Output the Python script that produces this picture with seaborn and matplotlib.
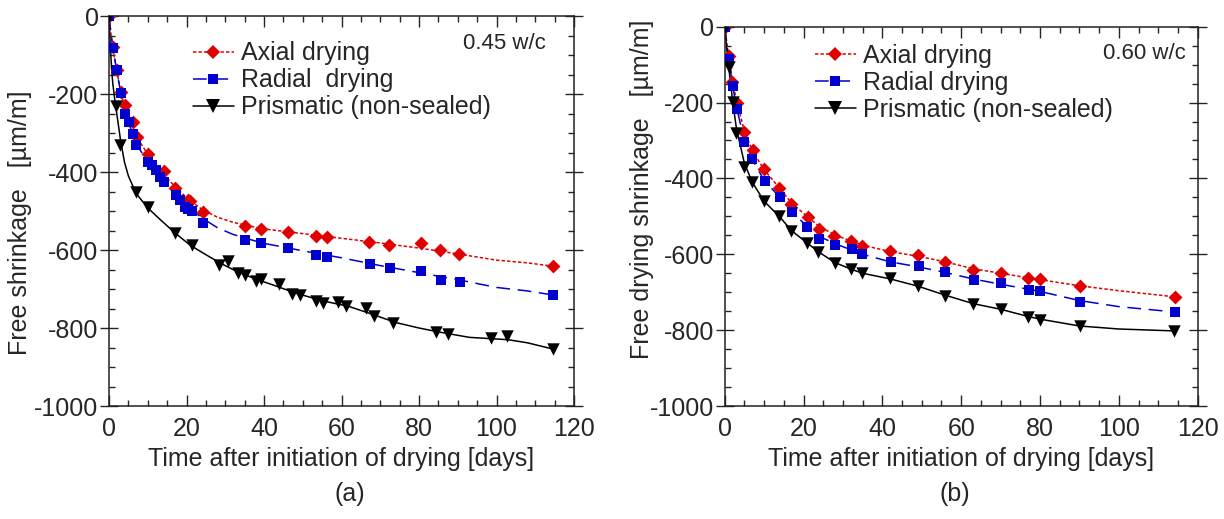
import numpy as np
import pandas as pd
import seaborn as sns
import matplotlib.pyplot as plt
from matplotlib.lines import Line2D
from matplotlib.ticker import MultipleLocator

# ---------------- data ----------------
# (a) 0.45 w/c  -- measured points
A_AXIAL_T = [0, 1.0, 2.1, 3.1, 4.2, 6.2, 7.2, 10.0, 14.1, 17.1, 20.3, 20.9, 24.2, 35.1, 39.2,
             46.2, 53.3, 56.3, 67.2, 72.3, 80.5, 85.4, 90.4, 114.6]
A_AXIAL_S = [0, -80, -138, -196, -227, -272, -309, -353, -398, -441, -471, -475, -502, -539, -547,
             -553, -564, -566, -579, -588, -581, -600, -609, -641]
A_RADIAL_T = [0, 1.0, 2.1, 3.1, 4.0, 5.1, 6.2, 6.9, 10.0, 11.1, 12.2, 13.2, 14.3, 17.3, 18.4,
              19.5, 20.5, 21.4, 24.2, 35.1, 39.3, 46.2, 53.3, 56.3, 67.3, 72.4, 80.5, 85.6, 90.6, 114.7]
A_RADIAL_S = [0, -81, -139, -197, -251, -271, -302, -332, -375, -383, -396, -413, -426, -460, -472,
              -489, -496, -501, -530, -574, -581, -595, -613, -618, -635, -645, -655, -676, -681, -715]
A_PRISM_T = [0, 1.9, 2.9, 6.9, 10.0, 17.1, 21.3, 28.3, 30.8, 33.2, 35.1, 37.9, 39.2, 43.9, 47.1,
             49.3, 53.3, 55.2, 59.2, 61.2, 66.4, 68.3, 73.4, 84.3, 87.4, 98.5, 102.6, 114.6]
A_PRISM_S = [0, -232, -331, -452, -489, -556, -588, -639, -627, -658, -665, -679, -675, -688, -712,
             -716, -730, -737, -734, -744, -749, -770, -786, -809, -816, -825, -820, -854]

# (a) fitted curves
A_FIT_T = [0, 0.5, 1, 2, 3, 4, 5, 6, 8, 10, 12, 14, 17, 20, 24, 28, 32, 36, 40, 50, 60, 70, 80,
           90, 100, 108, 115]
A_AXIAL_FIT = [0, -45, -82, -140, -192, -230, -258, -283, -323, -355, -382, -405, -437, -466, -496,
               -516, -529, -538, -546, -558, -570, -582, -595, -610, -626, -633, -642]
A_RADIAL_FIT = [0, -45, -82, -140, -195, -240, -272, -300, -343, -375, -400, -422, -455, -485, -518,
                -543, -560, -572, -583, -602, -620, -640, -658, -676, -696, -705, -716]
A_PRISM_FIT_T = [0, 0.3, 0.7, 1, 1.5, 2, 3, 4, 5, 7, 10, 13, 17, 21, 25, 29, 33, 38, 43, 48, 55,
                 62, 68, 74, 80, 85, 93, 103, 108, 115]
A_PRISM_FIT = [0, -70, -140, -175, -215, -250, -320, -375, -410, -455, -492, -520, -556, -588, -612,
               -635, -655, -675, -692, -710, -730, -745, -765, -786, -800, -810, -824, -830, -838, -855]

# (b) 0.60 w/c -- measured points
B_AXIAL_T = [0, 1.0, 1.9, 3.2, 5.0, 7.1, 10.0, 13.9, 16.8, 21.1, 23.9, 27.8, 32.1, 34.9, 42.0,
             49.1, 56.0, 63.1, 70.0, 77.0, 80.0, 90.2, 114.2]
B_AXIAL_S = [0, -76, -145, -200, -277, -326, -376, -426, -468, -501, -534, -552, -566, -577, -592,
             -602, -621, -642, -649, -662, -665, -684, -712]
B_RADIAL_T = [0, 1.2, 2.1, 3.0, 5.0, 7.0, 10.2, 14.0, 17.1, 21.0, 23.9, 28.0, 32.2, 34.9, 42.1,
              49.2, 56.0, 63.2, 70.0, 77.2, 80.1, 90.2, 114.2]
B_RADIAL_S = [0, -86, -156, -218, -303, -348, -406, -448, -488, -527, -561, -575, -587, -600, -621,
              -630, -648, -668, -677, -693, -697, -727, -752]
B_PRISM_T = [0, 1.2, 2.0, 2.9, 5.0, 7.0, 10.0, 13.9, 16.9, 21.0, 23.7, 28.0, 32.1, 34.9, 42.0,
             49.0, 56.0, 63.0, 70.0, 77.0, 79.9, 90.2, 114.0]
B_PRISM_S = [0, -105, -198, -281, -369, -410, -460, -499, -539, -571, -593, -624, -639, -649, -662,
             -683, -709, -732, -743, -766, -772, -789, -802]

# (b) fitted curves
B_FIT_T = [0, 0.5, 1, 2, 3, 5, 7, 10, 14, 17, 21, 24, 28, 32, 35, 42, 49, 56, 63, 70, 77, 80, 90,
           100, 114]
B_AXIAL_FIT = [0, -40, -76, -145, -195, -275, -327, -377, -427, -465, -501, -527, -549, -565, -576,
               -593, -605, -620, -638, -650, -662, -667, -683, -696, -712]
B_RADIAL_FIT = [0, -45, -85, -155, -213, -300, -350, -405, -450, -488, -527, -553, -572, -588, -600,
                -620, -633, -648, -665, -679, -692, -698, -722, -738, -752]
B_PRISM_FIT = [0, -55, -105, -195, -270, -360, -410, -460, -502, -538, -571, -595, -622, -639, -650,
               -665, -684, -708, -730, -745, -764, -771, -789, -797, -802]

LABELS_A = ['Axial drying', 'Radial  drying', 'Prismatic (non-sealed)']
LABELS_B = ['Axial drying', 'Radial drying', 'Prismatic (non-sealed)']

# ---------------- styles ----------------
RED, BLUE, BLACK = '#e00000', '#0000d0', '#000000'
STYLES = [
    dict(color=RED, ls=(0, (2.2, 1.4)), marker='D', s=50, ms=7.5),
    dict(color=BLUE, ls=(0, (9, 5)), marker='s', s=50, ms=7.5),
    dict(color=BLACK, ls='-', marker='v', s=80, ms=9.5),
]

sns.set_style('ticks')
plt.rcParams['font.family'] = ['Liberation Sans', 'DejaVu Sans']
plt.rcParams['font.size'] = 18
plt.rcParams['axes.unicode_minus'] = False
FS = 18


def draw_panel(ax, fits, points, labels, ylabel, ylabel_xy, wc_text, legend_anchor, wc_pos):
    for (ft, fs), st in zip(fits, STYLES):
        sns.lineplot(x=ft, y=fs, ax=ax, color=st['color'], linestyle=st['ls'],
                     linewidth=1.1, estimator=None, sort=False)
    for (pt, ps), st in zip(points, STYLES):
        sns.scatterplot(x=pt, y=ps, ax=ax, color=st['color'], marker=st['marker'],
                        s=st['s'], edgecolor=st['color'], linewidth=0, zorder=3)

    ax.set_xlim(0, 120)
    ax.set_ylim(-1000, 0)
    ax.xaxis.set_major_locator(MultipleLocator(20))
    ax.xaxis.set_minor_locator(MultipleLocator(5))
    ax.yaxis.set_major_locator(MultipleLocator(200))
    ax.yaxis.set_minor_locator(MultipleLocator(50))
    ax.tick_params(axis='x', which='major', direction='in', length=8, width=1,
                   top=True, bottom=True, labelsize=FS, pad=8)
    ax.tick_params(axis='x', which='minor', direction='in', length=4, width=1, top=True, bottom=True)
    ax.tick_params(axis='y', which='major', direction='inout', length=13, width=1,
                   left=True, right=True, labelsize=FS, pad=1)
    ax.tick_params(axis='y', which='minor', direction='in', length=4, width=1, left=True, right=True)
    for sp in ax.spines.values():
        sp.set_visible(True)
        sp.set_linewidth(1.1)
        sp.set_color('#222222')

    ax.set_xlabel('Time after initiation of drying [days]', fontsize=FS, labelpad=4)
    ax.set_ylabel(ylabel, fontsize=FS)
    ax.yaxis.set_label_coords(*ylabel_xy)

    handles = [Line2D([], [], color=st['color'], linestyle=st['ls'], linewidth=1.1,
                      marker=st['marker'], markersize=st['ms'], markeredgewidth=0)
               for st in STYLES]
    ax.legend(handles, labels, loc='upper left', bbox_to_anchor=legend_anchor, frameon=False,
              fontsize=FS, handlelength=1.65, handletextpad=0.3, labelspacing=0.12,
              borderpad=0, borderaxespad=0)
    ax.text(wc_pos[0], wc_pos[1], wc_text, transform=ax.transAxes, ha='right', va='center',
            fontsize=16)


fig = plt.figure(figsize=(12.24, 5.19), dpi=100)
ax_a = fig.add_axes([109 / 1224, 113 / 519, 465 / 1224, 390 / 519])
ax_b = fig.add_axes([724.7 / 1224, 113 / 519, 473 / 1224, 379.3 / 519])

draw_panel(ax_a,
           [(A_FIT_T, A_AXIAL_FIT), (A_FIT_T, A_RADIAL_FIT), (A_PRISM_FIT_T, A_PRISM_FIT)],
           [(A_AXIAL_T, A_AXIAL_S), (A_RADIAL_T, A_RADIAL_S), (A_PRISM_T, A_PRISM_S)],
           LABELS_A, 'Free shrinkage   [µm/m]', (-0.165, 0.47),
           '0.45 w/c', (0.18, 0.935), (0.94, 0.93))
draw_panel(ax_b,
           [(B_FIT_T, B_AXIAL_FIT), (B_FIT_T, B_RADIAL_FIT), (B_FIT_T, B_PRISM_FIT)],
           [(B_AXIAL_T, B_AXIAL_S), (B_RADIAL_T, B_RADIAL_S), (B_PRISM_T, B_PRISM_S)],
           LABELS_B, 'Free drying shrinkage   [µm/m]', (-0.15, 0.57),
           '0.60 w/c', (0.19, 0.955), (0.975, 0.93))

fig.text(350 / 1224, 1 - 494 / 519, '(a)', ha='center', va='center', fontsize=FS)
fig.text(955 / 1224, 1 - 494 / 519, '(b)', ha='center', va='center', fontsize=FS)

fig.savefig('out.png', dpi=100)
